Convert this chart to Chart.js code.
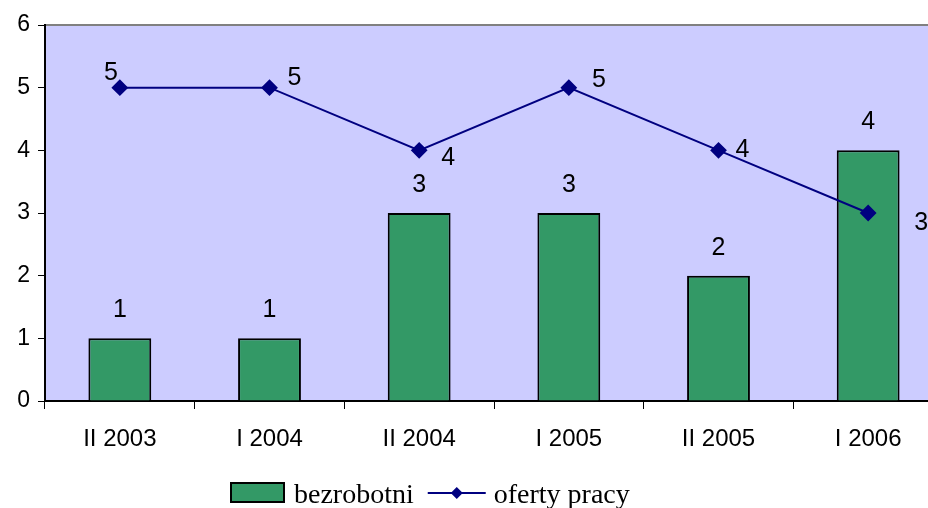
<!DOCTYPE html>
<html>
<head>
<meta charset="utf-8">
<script src="https://cdn.jsdelivr.net/npm/chart.js@4/dist/chart.umd.min.js"></script>
<style>
  html, body { margin: 0; padding: 0; background: #fff; overflow: hidden; }
  #wrap { width: 928px; height: 508px; overflow: hidden; }
</style>
</head>
<body>
<div id="wrap"><canvas id="myChart" width="960" height="508"></canvas></div>
<script>
// periods and values
let periods = ["II 2003", "I 2004", "II 2004", "I 2005", "II 2005", "I 2006"];
let unemployed = [1, 1, 3, 3, 2, 4];
let jobOffers = [5, 5, 4, 5, 4, 3];
let yTicks = [0, 1, 2, 3, 4, 5, 6];

// label offsets for the line points (dx, dy)
let offerLabelShift = [[-9, -15], [25, -10], [29, 8], [30, -8], [24, 0], [53, 10]];

const plotBg = {
    id: 'plotBg',
    beforeDraw(chart) {
        let a = chart.chartArea, ctx = chart.ctx;
        ctx.save();
        ctx.fillStyle = '#CCCCFF';
        ctx.fillRect(a.left, a.top, a.right - a.left, a.bottom - a.top);
        ctx.strokeStyle = '#808080';
        ctx.lineWidth = 2;
        ctx.beginPath();
        ctx.moveTo(a.left, a.top);
        ctx.lineTo(a.right, a.top);
        ctx.stroke();
        ctx.restore();
    }
};

const valueLabels = {
    id: 'valueLabels',
    afterDatasetsDraw(chart) {
        let ctx = chart.ctx;
        ctx.save();
        ctx.font = '25px "Liberation Sans", Arial, sans-serif';
        ctx.fillStyle = '#000';
        ctx.textAlign = 'center';
        ctx.textBaseline = 'middle';
        chart.getDatasetMeta(1).data.forEach((el, i) => {
            ctx.fillText(unemployed[i], el.x, el.y - 28);
        });
        chart.getDatasetMeta(0).data.forEach((el, i) => {
            ctx.fillText(jobOffers[i], el.x + offerLabelShift[i][0], el.y + offerLabelShift[i][1]);
        });
        ctx.restore();
    }
};

const bottomLegend = {
    id: 'bottomLegend',
    afterDraw(chart) {
        let ctx = chart.ctx;
        let x = 231, y = 483;
        ctx.save();
        ctx.fillStyle = '#339966';
        ctx.fillRect(x, y, 53, 19);
        ctx.strokeStyle = '#000';
        ctx.lineWidth = 2;
        ctx.strokeRect(x, y, 53, 19);
        ctx.font = '28px "Liberation Serif", "Times New Roman", serif';
        ctx.fillStyle = '#000';
        ctx.textBaseline = 'alphabetic';
        ctx.fillText('bezrobotni', x + 63, 503);
        let lx = x + 63 + ctx.measureText('bezrobotni').width + 14;
        ctx.strokeStyle = '#000080';
        ctx.beginPath();
        ctx.moveTo(lx, 493);
        ctx.lineTo(lx + 58, 493);
        ctx.stroke();
        ctx.fillStyle = '#000080';
        ctx.beginPath();
        ctx.moveTo(lx + 29, 487);
        ctx.lineTo(lx + 35, 493);
        ctx.lineTo(lx + 29, 499);
        ctx.lineTo(lx + 23, 493);
        ctx.closePath();
        ctx.fill();
        ctx.fillStyle = '#000';
        ctx.fillText('oferty pracy', lx + 66, 503);
        ctx.restore();
    }
};

new Chart(document.getElementById("myChart"), {
    data: {
        labels: periods,
        datasets: [{
            type: 'line',
            label: 'oferty pracy',
            data: jobOffers,
            borderColor: '#000080',
            backgroundColor: '#000080',
            borderWidth: 2,
            pointStyle: 'rectRot',
            pointRadius: 7,
            pointHoverRadius: 7,
            tension: 0,
            order: 0
        }, {
            type: 'bar',
            label: 'bezrobotni',
            data: unemployed,
            backgroundColor: '#339966',
            borderColor: '#000',
            borderWidth: 2,
            barPercentage: 0.42,
            categoryPercentage: 1,
            order: 1
        }]
    },
    options: {
        responsive: false,
        animation: false,
        devicePixelRatio: 1,
        layout: { padding: { left: 0, right: 17, top: 25, bottom: 0 } },
        plugins: {
            legend: { display: false },
            tooltip: { enabled: false }
        },
        scales: {
            x: {
                offset: true,
                grid: { offset: true, drawOnChartArea: false, tickLength: 8, color: '#000' },
                border: { color: '#000', width: 2 },
                ticks: { color: '#000', padding: 16, font: { family: '"Liberation Sans", Arial, sans-serif', size: 24 } },
                afterFit(scale) { scale.height = 107; }
            },
            y: {
                min: 0,
                max: 6,
                afterBuildTicks(scale) { scale.ticks = yTicks.map(v => ({ value: v })); },
                grid: { drawOnChartArea: false, tickLength: 7, color: '#000' },
                border: { color: '#000', width: 2 },
                ticks: { color: '#000', padding: 8, font: { family: '"Liberation Sans", Arial, sans-serif', size: 23 } },
                afterFit(scale) { scale.width = 45; }
            }
        }
    },
    plugins: [plotBg, valueLabels, bottomLegend]
});
</script>
</body>
</html>
